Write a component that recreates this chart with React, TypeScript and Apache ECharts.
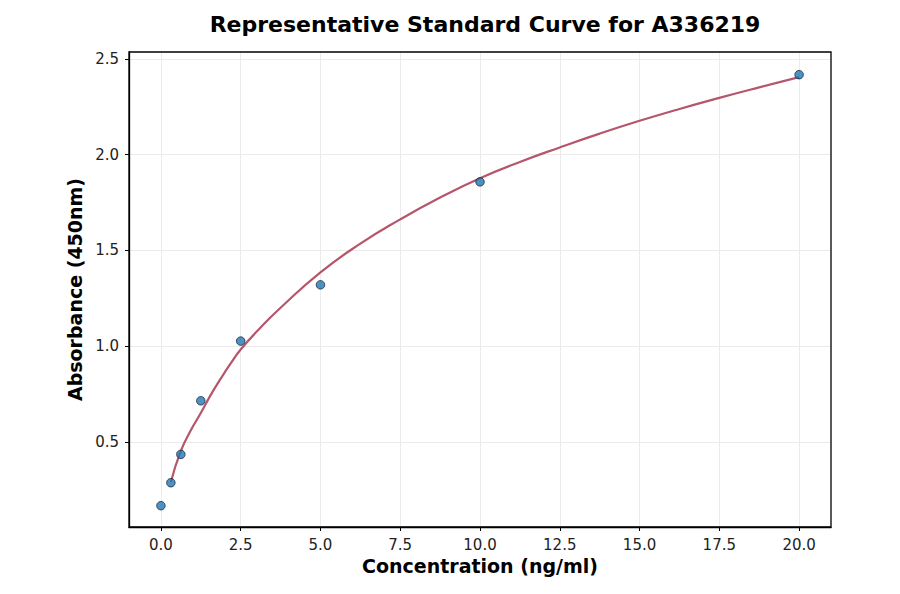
import { useEffect, useRef } from 'react';
import * as echarts from 'echarts';

// standards measured on the plate
const standardConc = [0, 0.3125, 0.625, 1.25, 2.5, 5, 10, 20];
const standardOD = [0.166, 0.286, 0.434, 0.714, 1.026, 1.32, 1.858, 2.418];

// fitted curve
const fitConc = [0.3125, 0.625, 0.9375, 1.25, 1.5625, 1.875, 2.1875, 2.5, 3.125, 3.75, 5, 6.25, 7.5, 8.75, 10, 11.25, 12.5, 13.75, 15, 16.25, 17.5, 18.75, 20];
const fitOD = [0.29, 0.452, 0.56, 0.65, 0.745, 0.83, 0.909, 0.982, 1.097, 1.2, 1.385, 1.535, 1.662, 1.776, 1.877, 1.962, 2.038, 2.11, 2.177, 2.239, 2.297, 2.352, 2.405];

const xTicks = [0, 2.5, 5, 7.5, 10, 12.5, 15, 17.5, 20];
const yTicks = [0.5, 1.0, 1.5, 2.0, 2.5];

const FONT = '"DejaVu Sans", sans-serif';

export default function App() {
  const chartRef = useRef<HTMLDivElement | null>(null);

  useEffect(() => {
    if (!chartRef.current) {
      return;
    }
    const chart = echarts.init(chartRef.current, null, { renderer: 'svg' });
    chart.setOption({
      animation: false,
      backgroundColor: '#ffffff',
      title: {
        text: 'Representative Standard Curve for A336219',
        left: 480,
        top: 8,
        textAlign: 'center',
        textStyle: { fontFamily: FONT, fontSize: 22, fontWeight: 'bold', color: '#000' },
      },
      grid: { left: 129, right: 69, top: 52, bottom: 67, containLabel: false },
      xAxis: {
        type: 'value',
        min: -1,
        max: 21,
        name: 'Concentration (ng/ml)',
        nameLocation: 'middle',
        nameGap: 29,
        nameTextStyle: { fontFamily: FONT, fontSize: 19, fontWeight: 'bold', color: '#000' },
        axisLine: { show: true, onZero: false, lineStyle: { color: '#000', width: 1.3 } },
        axisTick: { show: true, inside: false, length: 4, customValues: xTicks, lineStyle: { color: '#000' } },
        axisLabel: {
          customValues: xTicks,
          margin: 10,
          fontFamily: FONT,
          fontSize: 15,
          color: '#222',
          formatter: (v: number) => v.toFixed(1),
        },
        splitLine: { show: true, lineStyle: { color: '#ebebeb', width: 1 } },
      },
      yAxis: {
        type: 'value',
        min: 0.0546,
        max: 2.5366,
        name: 'Absorbance (450nm)',
        nameLocation: 'middle',
        nameGap: 44,
        nameTextStyle: { fontFamily: FONT, fontSize: 19, fontWeight: 'bold', color: '#000' },
        axisLine: { show: true, onZero: false, lineStyle: { color: '#000', width: 1.3 } },
        axisTick: { show: true, inside: false, length: 4, customValues: yTicks, lineStyle: { color: '#000' } },
        axisLabel: {
          customValues: yTicks,
          margin: 10,
          fontFamily: FONT,
          fontSize: 15,
          color: '#222',
          formatter: (v: number) => v.toFixed(1),
        },
        splitLine: { show: true, lineStyle: { color: '#ebebeb', width: 1 } },
      },
      graphic: [
        {
          type: 'rect',
          shape: { x: 129, y: 52, width: 702, height: 475 },
          style: { fill: 'none', stroke: '#000', lineWidth: 1.3 },
          z: 100,
          silent: true,
        },
      ],
      series: [
        {
          type: 'line',
          data: fitConc.map((x, i) => [x, fitOD[i]]),
          smooth: 0.5,
          showSymbol: false,
          symbol: 'none',
          lineStyle: { color: '#b5566b', width: 2.2 },
          z: 2,
        },
        {
          type: 'scatter',
          data: standardConc.map((x, i) => [x, standardOD[i]]),
          symbol: 'circle',
          symbolSize: 8.5,
          itemStyle: { color: '#1f77b4', borderColor: '#1c2b3a', borderWidth: 1 },
          z: 3,
        },
      ],
    });
    return () => {
      chart.dispose();
    };
  }, []);

  return <div ref={chartRef} style={{ width: 900, height: 594, margin: -8 }} />;
}
